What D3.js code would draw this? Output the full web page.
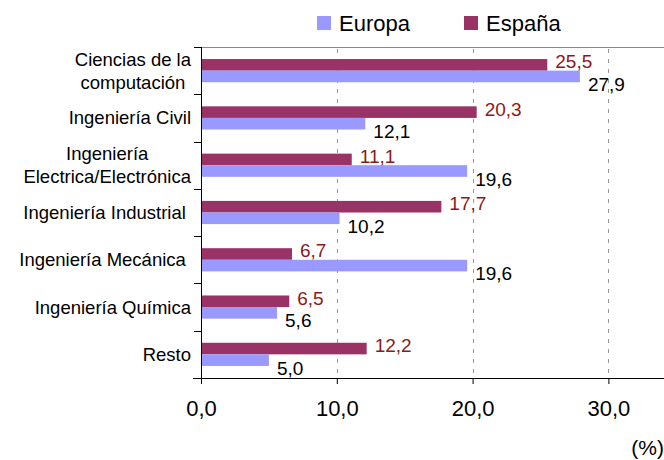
<!DOCTYPE html>
<html><head><meta charset="utf-8">
<script src="https://cdn.jsdelivr.net/npm/d3@7"></script>
<style>html,body{margin:0;padding:0;background:#fff;}svg{display:block;font-family:"Liberation Sans",Arial,sans-serif;}</style>
</head><body>
<svg id="c" width="664" height="460"></svg>
<script>
const categories = [
  ["Ciencias de la", "computación"],
  ["Ingeniería Civil"],
  ["Ingeniería", "Electrica/Electrónica"],
  ["Ingeniería Industrial "],
  ["Ingeniería Mecánica "],
  ["Ingeniería Química"],
  ["Resto"]
];
const espana = [25.5, 20.3, 11.1, 17.7, 6.7, 6.5, 12.2];
const europa = [27.9, 12.1, 19.6, 10.2, 19.6, 5.6, 5.0];
const seriesNames = ["Europa", "España"];
const xTicks = [0, 10, 20, 30];
const unitLabel = "(%)";

(function(){
const colors = {"Europa": "#9999ff", "España": "#993366"};
const fmt = v => v.toFixed(1).replace(".", ",");

const svg = d3.select("#c");
const W = 664;
const pLeft = 201, pTop = 47, pBottom = 378;
const x = d3.scaleLinear().domain([0, 40]).range([pLeft, pLeft + 40 * 13.58]);
const keys = categories.map((c, i) => i);
const y = d3.scaleBand().domain(keys).range([pTop, pBottom]).paddingInner(0).paddingOuter(0);
const sub = d3.scaleBand().domain(["España", "Europa"]).range([0, y.bandwidth()]).paddingInner(0).paddingOuter(1.04);

// top border
svg.append("line").attr("x1", pLeft).attr("x2", W).attr("y1", pTop + 0.5).attr("y2", pTop + 0.5)
  .attr("stroke", "#888").attr("stroke-width", 1);

// gridlines
svg.append("g").selectAll("line").data(xTicks.filter(t => t > 0)).join("line")
  .attr("x1", d => Math.round(x(d)) + 0.5).attr("x2", d => Math.round(x(d)) + 0.5)
  .attr("y1", pTop + 2).attr("y2", pBottom)
  .attr("stroke", "#999").attr("stroke-dasharray", "4,6").attr("stroke-width", 1);

// bars
const data = keys.map(i => ({i, "España": espana[i], "Europa": europa[i]}));
const g = svg.append("g");
["España", "Europa"].forEach(s => {
  g.append("g").selectAll("rect").data(data).join("rect")
    .attr("x", x(0))
    .attr("y", d => y(d.i) + sub(s))
    .attr("width", d => x(d[s]) - x(0))
    .attr("height", sub.bandwidth())
    .attr("fill", colors[s]);
});

// data labels
const lab = svg.append("g").style("font-size", "19px");
lab.append("g").selectAll("text").data(data).join("text")
  .attr("x", d => x(d["España"]) + 8)
  .attr("y", d => y(d.i) + sub("España") + sub.bandwidth() / 2 - 3)
  .attr("dominant-baseline", "central")
  .attr("fill", "#8b1a1a")
  .text(d => fmt(d["España"]));
lab.append("g").selectAll("text").data(data).join("text")
  .attr("x", d => x(d["Europa"]) + 8)
  .attr("y", d => y(d.i) + sub("Europa") + sub.bandwidth() / 2 + 8)
  .attr("dominant-baseline", "central")
  .attr("fill", "#000")
  .text(d => fmt(d["Europa"]));

// x axis
const xAxis = d3.axisBottom(x).tickValues(xTicks).tickSize(6).tickPadding(16).tickFormat(fmt);
const xg = svg.append("g").attr("transform", `translate(0,${pBottom})`).call(xAxis);
xg.select(".domain").remove();
xg.append("line").attr("x1", pLeft - 8).attr("x2", W).attr("y1", 0.5).attr("y2", 0.5).attr("stroke", "#000");
xg.selectAll(".tick line").attr("stroke", "#000");
xg.selectAll(".tick text").style("font-size", "22px").style("font-family", "'Liberation Sans',Arial,sans-serif").attr("fill", "#000");

// y axis
const yAxis = d3.axisLeft(y).tickSize(0).tickFormat("");
const yg = svg.append("g").attr("transform", `translate(${pLeft},0)`).call(yAxis);
yg.select(".domain").remove();
yg.append("line").attr("x1", 0.5).attr("x2", 0.5).attr("y1", pTop).attr("y2", pBottom + 6).attr("stroke", "#000");
const bounds = keys.map(i => y(i)).concat([pBottom]);
yg.selectAll("line.tk").data(bounds).join("line").attr("class", "tk")
  .attr("x1", -7).attr("x2", 0).attr("y1", d => Math.round(d) + 0.5).attr("y2", d => Math.round(d) + 0.5)
  .attr("stroke", "#000");

// category labels
const cg = svg.append("g").style("font-size", "18.5px");
categories.forEach((lines, i) => {
  const cy = y(i) + y.bandwidth() / 2;
  const lh = 23;
  const texts = lines.map((t, k) => cg.append("text")
    .attr("y", cy + (k - (lines.length - 1) / 2) * lh)
    .attr("dominant-baseline", "central")
    .attr("fill", "#000")
    .style("white-space", "pre")
    .text(t));
  const widths = texts.map(t => t.node().getComputedTextLength());
  const maxW = d3.max(widths);
  const right = 191;
  texts.forEach(t => t.attr("x", right - maxW / 2).attr("text-anchor", "middle"));
});

// unit label
svg.append("text").attr("x", 664).attr("y", 455).attr("text-anchor", "end")
  .style("font-size", "21px").attr("fill", "#000").text(unitLabel);

// legend
const legendPos = [{s: "Europa", x: 317}, {s: "España", x: 464}];
const lg = svg.append("g");
legendPos.forEach(p => {
  lg.append("rect").attr("x", p.x).attr("y", 16).attr("width", 14).attr("height", 14).attr("fill", colors[p.s]);
  lg.append("text").attr("x", p.x + 22).attr("y", 23).attr("dominant-baseline", "central")
    .style("font-size", "22px").attr("fill", "#000").text(p.s);
});
})();
</script>
</body></html>
